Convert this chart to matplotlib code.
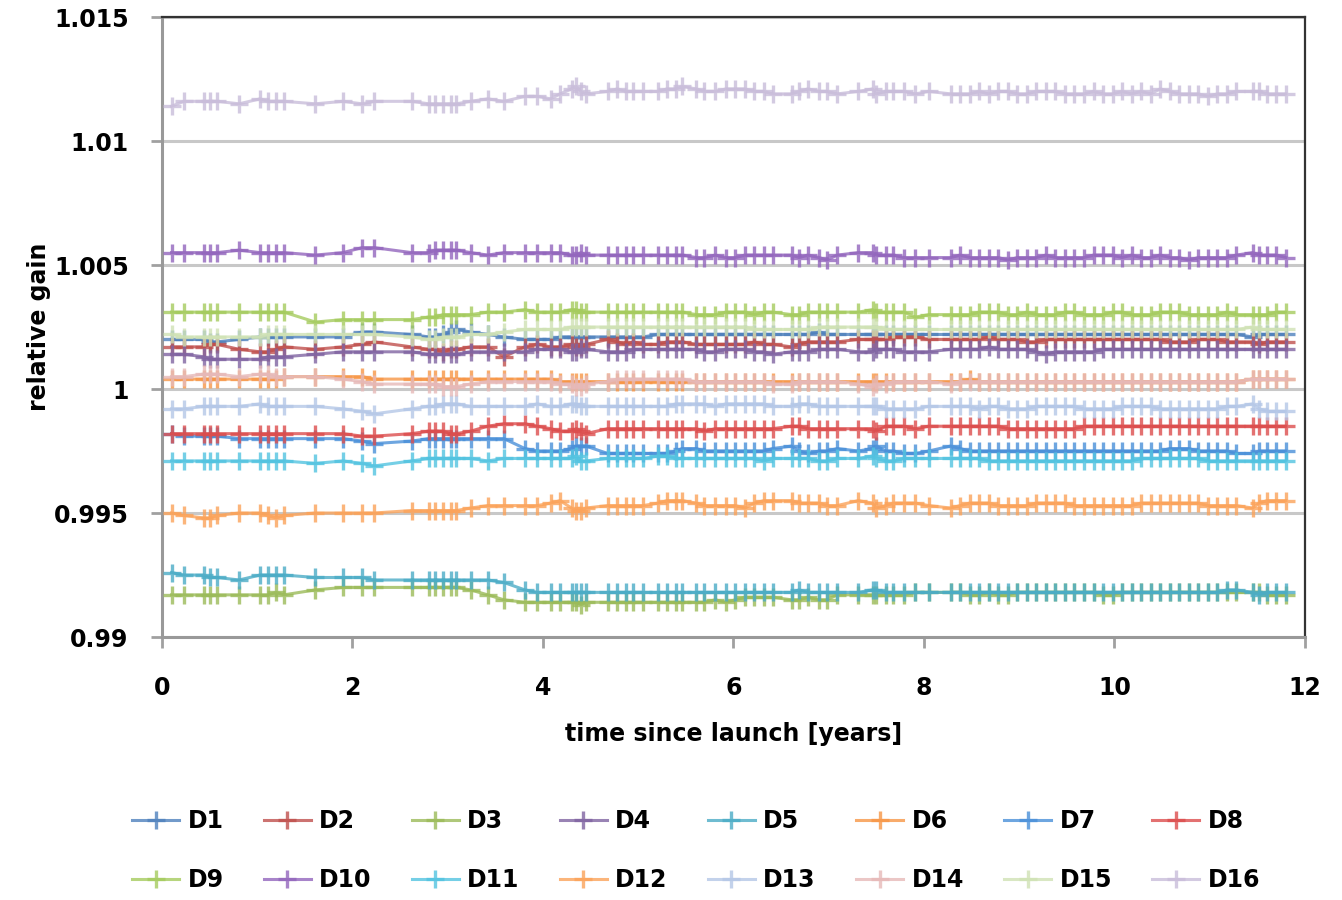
import numpy as np
import matplotlib
matplotlib.use("Agg")
import matplotlib.pyplot as plt

# sample times [years since launch]
T = [0.10, 0.23, 0.44, 0.50, 0.58, 0.81, 1.03, 1.11, 1.20, 1.28,
     1.61, 1.90, 2.10, 2.23, 2.62, 2.80, 2.87, 2.95, 3.03, 3.09,
     3.24, 3.42, 3.59, 3.81, 3.94, 4.08, 4.18, 4.30, 4.35, 4.40,
     4.45, 4.68, 4.78, 4.87, 4.95, 5.05, 5.21, 5.30, 5.40, 5.46,
     5.61, 5.69, 5.81, 5.92, 6.02, 6.12, 6.22, 6.32, 6.41, 6.61,
     6.69, 6.78, 6.90, 6.98, 7.09, 7.31, 7.46, 7.50, 7.60, 7.68,
     7.79, 7.91, 8.05, 8.28, 8.38, 8.48, 8.58, 8.68, 8.78, 8.88,
     8.98, 9.08, 9.18, 9.28, 9.38, 9.48, 9.58, 9.68, 9.78, 9.88,
     9.98, 10.08, 10.18, 10.28, 10.38, 10.48, 10.58, 10.68, 10.78, 10.88,
     10.98, 11.08, 11.18, 11.28, 11.45, 11.52, 11.60, 11.70, 11.80]

# relative gain per detector, given as (gain - 1) in units of 1e-4
D1 = [20, 20, 20, 19, 19, 20, 21, 21, 21, 21,
      21, 21, 23, 23, 22, 21, 21, 22, 23, 24,
      23, 22, 21, 20, 20, 20, 21, 21, 21, 21,
      21, 21, 21, 21, 21, 21, 22, 22, 22, 22,
      22, 22, 22, 22, 22, 22, 22, 22, 22, 22,
      22, 22, 23, 22, 22, 22, 22, 22, 22, 22,
      22, 22, 22, 22, 22, 22, 22, 22, 22, 22,
      22, 22, 22, 22, 22, 22, 22, 22, 22, 22,
      22, 22, 22, 22, 22, 22, 22, 22, 22, 22,
      22, 22, 22, 22, 21, 22, 22, 22, 22]
D2 = [17, 17, 17, 18, 18, 16, 15, 15, 16, 17,
      16, 17, 18, 19, 17, 16, 16, 15, 16, 16,
      17, 17, 13, 17, 18, 17, 17, 18, 17, 17,
      18, 20, 19, 18, 19, 18, 18, 19, 19, 19,
      18, 18, 18, 18, 18, 18, 19, 18, 18, 17,
      18, 19, 19, 19, 19, 20, 20, 20, 20, 21,
      21, 21, 20, 20, 20, 20, 20, 21, 20, 20,
      20, 19, 19, 20, 20, 20, 20, 20, 20, 20,
      20, 20, 20, 20, 20, 20, 19, 19, 19, 20,
      20, 20, 19, 19, 19, 18, 19, 19, 19]
D3 = [-83, -83, -83, -83, -83, -83, -83, -83, -82, -83,
      -81, -80, -80, -80, -80, -80, -80, -80, -80, -80,
      -81, -83, -85, -86, -86, -86, -86, -86, -86, -87,
      -86, -86, -86, -86, -86, -86, -86, -86, -86, -86,
      -86, -86, -85, -86, -85, -84, -84, -84, -84, -85,
      -85, -84, -85, -85, -83, -83, -83, -83, -83, -83,
      -83, -82, -82, -82, -82, -83, -83, -82, -83, -83,
      -82, -82, -82, -82, -82, -82, -82, -82, -82, -83,
      -83, -82, -82, -82, -82, -82, -82, -82, -82, -82,
      -82, -82, -82, -82, -82, -82, -83, -83, -83]
D4 = [14, 14, 13, 12, 12, 12, 12, 13, 13, 13,
      14, 15, 15, 15, 15, 14, 14, 14, 14, 14,
      15, 15, 15, 15, 16, 16, 16, 15, 15, 16,
      16, 15, 15, 15, 16, 16, 16, 16, 16, 16,
      16, 15, 15, 16, 16, 16, 15, 15, 14, 15,
      15, 15, 16, 16, 16, 15, 15, 16, 16, 16,
      15, 15, 15, 16, 16, 16, 16, 17, 16, 16,
      16, 16, 15, 14, 15, 15, 15, 15, 15, 16,
      16, 16, 16, 16, 16, 16, 16, 16, 16, 16,
      16, 16, 16, 16, 16, 16, 16, 16, 16]
D5 = [-74, -75, -75, -76, -76, -77, -75, -75, -75, -75,
      -76, -76, -76, -77, -77, -77, -77, -77, -77, -77,
      -77, -77, -78, -81, -82, -82, -82, -82, -82, -82,
      -82, -82, -82, -82, -82, -82, -82, -82, -82, -82,
      -82, -82, -82, -82, -82, -82, -82, -82, -82, -82,
      -81, -82, -82, -82, -82, -82, -81, -81, -82, -82,
      -82, -82, -82, -82, -82, -82, -82, -82, -82, -82,
      -82, -82, -82, -82, -82, -82, -82, -82, -82, -82,
      -82, -82, -82, -82, -82, -82, -82, -82, -82, -82,
      -82, -82, -81, -81, -82, -83, -82, -82, -82]
D6 = [4, 4, 4, 4, 4, 4, 4, 4, 4, 5,
      5, 5, 5, 4, 4, 4, 4, 4, 4, 4,
      4, 4, 4, 4, 4, 4, 3, 3, 3, 3,
      3, 3, 3, 3, 3, 3, 3, 3, 3, 3,
      3, 3, 3, 3, 3, 3, 3, 3, 3, 3,
      3, 3, 3, 3, 3, 3, 3, 3, 3, 3,
      3, 3, 3, 3, 3, 4, 3, 3, 3, 3,
      3, 3, 3, 3, 3, 3, 3, 3, 3, 3,
      3, 3, 3, 3, 3, 3, 3, 3, 3, 3,
      3, 3, 3, 3, 4, 4, 4, 4, 4]
D7 = [-18, -19, -19, -19, -19, -20, -20, -20, -20, -20,
      -20, -20, -21, -22, -21, -20, -20, -20, -20, -20,
      -20, -20, -20, -24, -25, -25, -25, -24, -23, -23,
      -23, -26, -26, -26, -26, -26, -26, -26, -25, -24,
      -24, -25, -25, -25, -25, -25, -25, -25, -24, -23,
      -25, -26, -25, -25, -24, -25, -24, -23, -25, -25,
      -26, -26, -25, -23, -24, -25, -25, -25, -25, -25,
      -25, -25, -25, -25, -25, -25, -25, -25, -25, -25,
      -25, -25, -25, -25, -25, -25, -24, -24, -24, -25,
      -25, -25, -25, -26, -26, -25, -25, -25, -25]
D8 = [-18, -18, -18, -18, -18, -18, -18, -18, -18, -18,
      -18, -18, -19, -19, -18, -17, -17, -17, -18, -18,
      -17, -15, -14, -14, -15, -16, -17, -17, -16, -17,
      -18, -16, -16, -16, -16, -16, -16, -16, -16, -16,
      -16, -17, -16, -16, -16, -16, -16, -16, -16, -15,
      -15, -16, -16, -16, -16, -16, -16, -17, -15, -15,
      -15, -16, -15, -15, -15, -15, -15, -15, -15, -16,
      -16, -16, -16, -16, -16, -16, -16, -15, -15, -15,
      -15, -15, -15, -15, -15, -15, -15, -15, -15, -15,
      -15, -15, -15, -15, -15, -15, -15, -15, -15]
D9 = [31, 31, 31, 31, 31, 31, 31, 31, 31, 31,
      27, 28, 28, 28, 28, 29, 29, 30, 30, 30,
      30, 31, 31, 32, 31, 31, 31, 32, 32, 31,
      31, 31, 31, 31, 31, 31, 31, 31, 31, 31,
      30, 30, 30, 31, 31, 31, 30, 31, 31, 30,
      30, 31, 31, 31, 31, 31, 32, 31, 31, 31,
      31, 29, 30, 30, 30, 30, 31, 31, 31, 30,
      30, 31, 30, 30, 30, 31, 31, 30, 30, 30,
      31, 31, 30, 30, 30, 31, 31, 31, 30, 30,
      30, 30, 31, 30, 30, 30, 30, 31, 31]
D10 = [55, 55, 55, 55, 55, 56, 55, 55, 55, 55,
       54, 55, 57, 57, 55, 55, 56, 56, 56, 56,
       55, 54, 55, 55, 55, 55, 55, 54, 54, 55,
       54, 54, 54, 54, 54, 54, 54, 54, 54, 54,
       53, 53, 54, 53, 53, 54, 54, 54, 54, 54,
       53, 54, 53, 52, 54, 55, 55, 54, 54, 54,
       53, 53, 53, 53, 54, 53, 53, 53, 53, 52,
       53, 53, 53, 54, 53, 53, 53, 53, 54, 54,
       54, 53, 54, 53, 53, 54, 53, 53, 52, 53,
       53, 53, 53, 54, 55, 54, 54, 54, 53]
D11 = [-29, -29, -29, -29, -29, -29, -29, -29, -29, -29,
       -30, -29, -30, -31, -29, -28, -28, -28, -28, -28,
       -28, -29, -28, -28, -28, -28, -28, -28, -27, -29,
       -29, -28, -28, -28, -28, -28, -27, -27, -28, -28,
       -28, -28, -28, -28, -28, -28, -28, -29, -28, -28,
       -28, -28, -29, -29, -28, -28, -27, -28, -29, -29,
       -28, -28, -28, -28, -28, -28, -28, -29, -29, -29,
       -29, -29, -29, -29, -29, -29, -29, -29, -29, -29,
       -29, -29, -29, -28, -28, -28, -28, -28, -28, -28,
       -29, -29, -29, -29, -29, -29, -29, -29, -29]
D12 = [-50, -51, -52, -52, -51, -50, -50, -51, -52, -51,
       -50, -50, -50, -50, -49, -49, -49, -49, -49, -49,
       -48, -47, -47, -47, -47, -46, -45, -48, -49, -49,
       -48, -47, -47, -47, -47, -47, -46, -45, -45, -45,
       -46, -47, -47, -47, -47, -48, -46, -45, -45, -45,
       -46, -46, -46, -47, -47, -45, -46, -48, -47, -46,
       -46, -46, -47, -48, -47, -46, -46, -46, -47, -47,
       -47, -47, -46, -46, -46, -46, -47, -47, -47, -47,
       -47, -47, -47, -46, -46, -46, -46, -46, -46, -46,
       -47, -47, -47, -47, -48, -46, -45, -45, -45]
D13 = [-8, -8, -7, -7, -7, -7, -6, -7, -7, -7,
       -7, -8, -9, -10, -8, -7, -7, -6, -6, -6,
       -7, -7, -7, -7, -6, -7, -7, -6, -6, -7,
       -7, -7, -7, -7, -7, -7, -7, -7, -6, -6,
       -6, -6, -7, -6, -6, -6, -6, -6, -7, -7,
       -6, -6, -7, -7, -7, -7, -7, -7, -8, -8,
       -8, -8, -7, -7, -7, -7, -8, -7, -7, -8,
       -8, -8, -7, -7, -7, -7, -7, -8, -8, -8,
       -8, -7, -7, -7, -7, -8, -8, -8, -8, -8,
       -8, -8, -7, -7, -6, -8, -9, -9, -9]
D14 = [5, 5, 6, 6, 6, 5, 6, 6, 5, 5,
       5, 4, 3, 2, 2, 2, 2, 1, 1, 1,
       2, 3, 3, 3, 3, 3, 2, 2, 1, 1,
       2, 3, 4, 4, 4, 4, 4, 4, 4, 4,
       3, 3, 3, 3, 3, 3, 3, 3, 2, 2,
       3, 3, 3, 3, 3, 2, 1, 2, 2, 3,
       3, 3, 3, 2, 3, 3, 3, 3, 3, 3,
       3, 3, 3, 3, 3, 3, 3, 3, 3, 3,
       3, 3, 3, 3, 3, 3, 3, 3, 3, 3,
       3, 3, 3, 3, 4, 4, 4, 4, 4]
D15 = [22, 21, 21, 21, 21, 21, 21, 22, 22, 22,
       22, 22, 22, 22, 21, 20, 20, 21, 21, 21,
       22, 22, 23, 24, 24, 24, 24, 25, 25, 25,
       25, 25, 25, 25, 25, 25, 25, 25, 25, 25,
       25, 25, 25, 25, 25, 25, 24, 24, 24, 24,
       24, 24, 25, 25, 25, 25, 25, 25, 24, 24,
       24, 24, 24, 24, 24, 24, 24, 24, 24, 24,
       24, 24, 24, 24, 24, 24, 24, 24, 24, 24,
       24, 24, 24, 24, 24, 24, 24, 24, 24, 24,
       24, 24, 24, 24, 25, 24, 24, 24, 24]
D16 = [114, 116, 116, 116, 116, 115, 117, 116, 116, 116,
       115, 116, 115, 116, 116, 115, 115, 115, 115, 115,
       116, 117, 116, 118, 118, 117, 119, 121, 122, 120,
       119, 120, 121, 120, 120, 120, 120, 121, 121, 122,
       121, 120, 120, 121, 121, 121, 120, 120, 119, 119,
       120, 121, 120, 120, 119, 120, 121, 119, 120, 120,
       120, 119, 120, 119, 119, 119, 120, 119, 120, 120,
       119, 119, 120, 120, 120, 119, 119, 119, 120, 119,
       119, 120, 119, 120, 119, 121, 120, 119, 119, 119,
       118, 119, 119, 120, 120, 120, 119, 119, 119]

names = ["D1", "D2", "D3", "D4", "D5", "D6", "D7", "D8",
         "D9", "D10", "D11", "D12", "D13", "D14", "D15", "D16"]
series = [D1, D2, D3, D4, D5, D6, D7, D8, D9, D10, D11, D12, D13, D14, D15, D16]
colors = ["#4F81BD", "#C0504D", "#9BBB59", "#8064A2", "#4BACC6", "#F79646", "#4A90D9", "#DC4D4D",
          "#A5CB5E", "#9366BD", "#52C3E0", "#FBA35A", "#B4C7E7", "#E6B9B8", "#D0E2B5", "#C9BDDA"]

plt.rcParams['font.family'] = ['DejaVu Sans']
plt.rcParams['font.weight'] = 'bold'
fs = 17

fig = plt.figure(figsize=(13.42, 9), dpi=100)
ax = fig.add_axes([0.1207, 0.2922, 0.8517, 0.6889])

t = np.array(T)
handles = []
for name, vals, c in zip(names, series, colors):
    gain = 1 + np.array(vals) * 1e-4
    h, = ax.plot(t, gain, color=c, lw=2.2, alpha=0.8, marker='+', ms=13, mew=2.4,
                 label=name, zorder=3)
    handles.append(h)

ax.set_xlim(0, 12)
ax.set_ylim(0.99, 1.015)
ax.set_xticks(range(0, 13, 2))
ax.set_yticks([0.99, 0.995, 1.0, 1.005, 1.01, 1.015])
ax.set_yticklabels(["0.99", "0.995", "1", "1.005", "1.01", "1.015"])
ax.grid(axis='y', color='#C8C8C8', lw=2.2, zorder=1)
ax.set_axisbelow(True)

ax.tick_params(axis='both', labelsize=fs, color='#A0A0A0', width=2, length=8)
ax.tick_params(axis='y', pad=16)
ax.tick_params(axis='x', pad=20)
for side in ['left', 'bottom']:
    ax.spines[side].set_color('#999999')
    ax.spines[side].set_linewidth(2.2)
for side in ['top', 'right']:
    ax.spines[side].set_color('#333333')
    ax.spines[side].set_linewidth(1.6)

ax.set_xlabel("time since launch [years]", fontsize=fs, fontweight='bold', labelpad=16)
ax.set_ylabel("relative gain", fontsize=fs, fontweight='bold', labelpad=2)

# legend in two rows: D1..D8 on top, D9..D16 below
order = []
for i in range(8):
    order += [handles[i], handles[i + 8]]
fig.legend(order, [h.get_label() for h in order], ncol=8, loc='center',
           bbox_to_anchor=(0.5186, 0.055), frameon=False, fontsize=fs,
           handlelength=2.0, handletextpad=0.35, columnspacing=1.7, labelspacing=1.5)

fig.savefig("out.png", dpi=100)
